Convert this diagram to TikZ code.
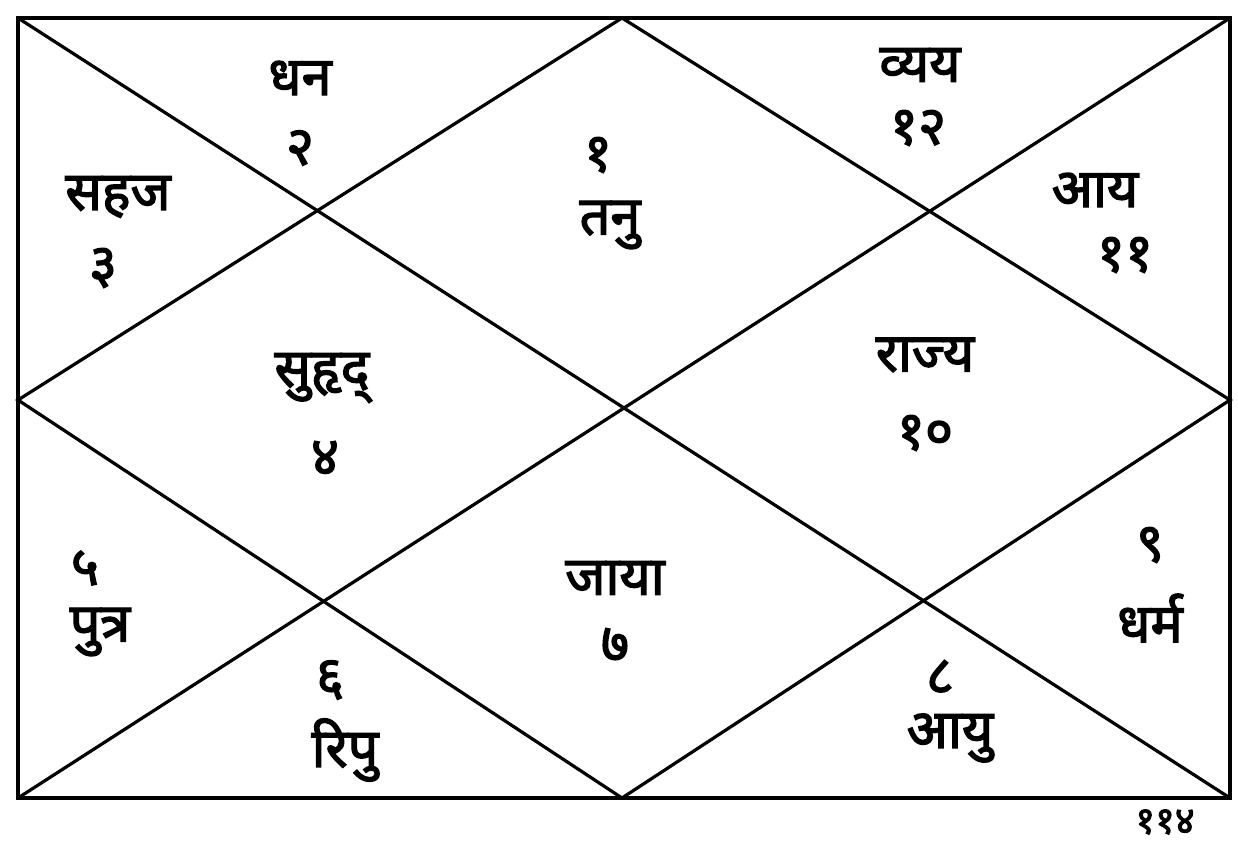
\documentclass[tikz,border=0pt]{standalone}
\usepackage{fontspec}
\newfontfamily\deva[Script=Devanagari, AutoFakeBold=2.5]{Noto Sans}
\tikzset{
  bhava/.style={font=\deva\bfseries\fontsize{27}{30}\selectfont, inner sep=1pt},
  rekha/.style={line width=1.6pt},
}
\begin{document}
\begin{tikzpicture}[x=0.5pt,y=-0.5pt]
	\useasboundingbox (0,0) rectangle (1238,844);
	% corners and midpoints of the chart
	\coordinate (tl) at (18,18);
	\coordinate (tr) at (1230,18);
	\coordinate (br) at (1230,798);
	\coordinate (bl) at (18,798);
	\coordinate (tm) at (622,18);
	\coordinate (rm) at (1230,400);
	\coordinate (bm) at (622,798);
	\coordinate (lm) at (18,400);
	\draw[line width=2.2pt] (tl) -- (tr) -- (br) -- (bl) -- cycle;
	\draw[rekha] (tl) -- (br);
	\draw[rekha] (tr) -- (bl);
	\draw[rekha] (tm) -- (rm) -- (bm) -- (lm) -- cycle;
	% houses
	\node[bhava] (n1) at (598,155) {१};
	\node[bhava] (t1) at (610,225) {तनु};
	\node[bhava] (t2) at (300,78) {धन};
	\node[bhava] (n2) at (300,148) {२};
	\node[bhava] (t3) at (118,197) {सहज};
	\node[bhava] (n3) at (103,268) {३};
	\node[bhava] (t4) at (322,378) {सुहृद्};
	\node[bhava] (n4) at (325,458) {४};
	\node[bhava] (n5) at (85,568) {५};
	\node[bhava] (t5) at (100,632) {पुत्र};
	\node[bhava] (n6) at (330,680) {६};
	\node[bhava] (t6) at (345,750) {रिपु};
	\node[bhava] (t7) at (615,578) {जाया};
	\node[bhava] (n7) at (615,645) {७};
	\node[bhava] (n8) at (940,677) {८};
	\node[bhava] (t8) at (950,738) {आयु};
	\node[bhava] (n9) at (1150,545) {९};
	\node[bhava] (t9) at (1150,618) {धर्म};
	\node[bhava] (t10) at (925,355) {राज्य};
	\node[bhava] (n10) at (925,433) {१०};
	\node[bhava] (t11) at (1095,190) {आय};
	\node[bhava] (n11) at (1125,255) {११};
	\node[bhava] (t12) at (920,65) {व्यय};
	\node[bhava] (n12) at (918,128) {१२};
	\node[bhava, font=\deva\bfseries\fontsize{19}{21}\selectfont, inner sep=0pt] (pg) at (1165,822) {११४};
\end{tikzpicture}
\end{document}
